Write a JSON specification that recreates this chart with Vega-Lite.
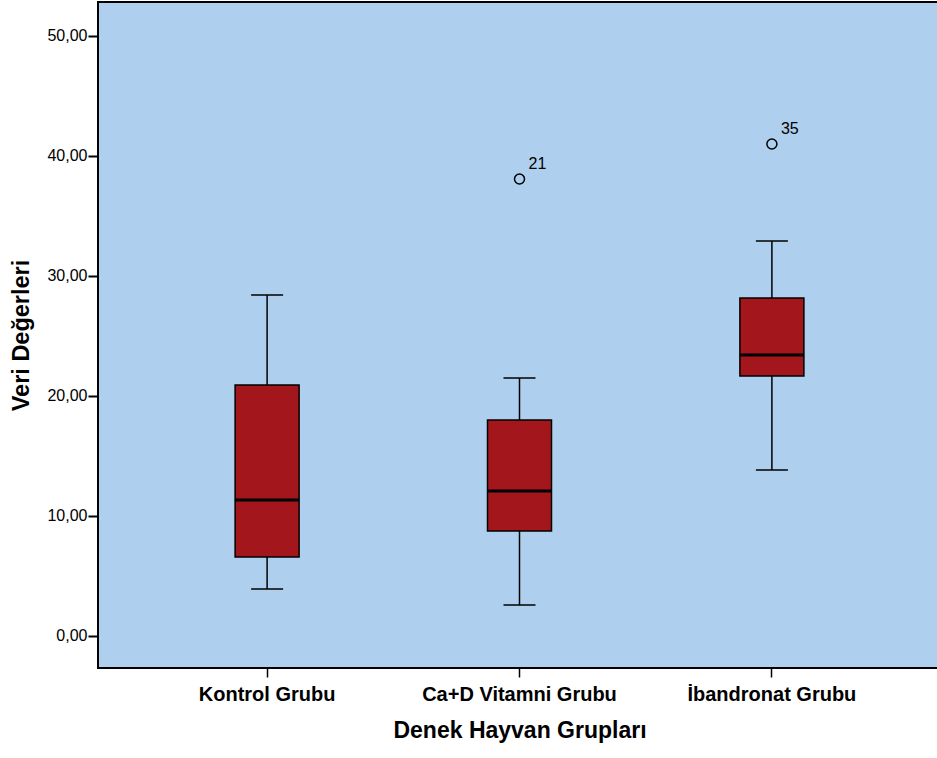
{
  "$schema": "https://vega.github.io/schema/vega-lite/v6.json",
  "width": 843,
  "height": 666,
  "autosize": {"type": "none"},
  "padding": {"left": 98, "top": 2, "right": 0, "bottom": 90},
  "background": "white",
  "config": {
    "font": "Liberation Sans",
    "axis": {"labelFont": "Liberation Sans", "titleFont": "Liberation Sans"},
    "text": {"font": "Liberation Sans"},
    "view": {"fill": "#AED0EE", "stroke": "#000000", "strokeWidth": 2}
  },
  "datasets": {
    "boxes": [
      {"grup": "Kontrol Grubu", "min": 3.92, "q1": 6.58, "median": 11.33, "q3": 20.92, "max": 28.42},
      {"grup": "Ca+D Vitamni Grubu", "min": 2.58, "q1": 8.75, "median": 12.08, "q3": 18.0, "max": 21.5},
      {"grup": "İbandronat Grubu", "min": 13.83, "q1": 21.67, "median": 23.42, "q3": 28.17, "max": 32.92}
    ],
    "outliers": [
      {"grup": "Ca+D Vitamni Grubu", "deger": 38.08, "etiket": "21"},
      {"grup": "İbandronat Grubu", "deger": 41.0, "etiket": "35"}
    ]
  },
  "encoding": {
    "x": {
      "field": "grup",
      "type": "nominal",
      "sort": ["Kontrol Grubu", "Ca+D Vitamni Grubu", "İbandronat Grubu"],
      "scale": {"type": "band", "paddingInner": 0, "paddingOuter": 0.17},
      "axis": {
        "title": "Denek Hayvan Grupları",
        "titleFontSize": 23,
        "titleFontWeight": "bold",
        "titleColor": "#000000",
        "titlePadding": 15,
        "labelFontSize": 20,
        "labelFontWeight": "bold",
        "labelColor": "#000000",
        "labelAngle": 0,
        "labelPadding": 7,
        "labelLimit": 400,
        "domain": false,
        "ticks": true,
        "tickColor": "#000000",
        "tickSize": 9,
        "tickWidth": 1.5,
        "grid": false
      }
    }
  },
  "layer": [
    {
      "data": {"name": "boxes"},
      "mark": {"type": "rule", "color": "#000000", "strokeWidth": 1.5},
      "encoding": {
        "y": {
          "field": "min",
          "type": "quantitative",
          "scale": {"domain": [-2.67, 52.83], "nice": false, "zero": false},
          "axis": {
            "title": "Veri Değerleri",
            "titleFontSize": 23.5,
            "titleFontWeight": "bold",
            "titleColor": "#000000",
            "titlePadding": 13,
            "values": [0, 10, 20, 30, 40, 50],
            "labelExpr": "replace(format(datum.value, '.2f'), '.', ',')",
            "labelFontSize": 16,
            "labelColor": "#000000",
            "labelPadding": 1,
            "domain": false,
            "tickColor": "#000000",
            "tickSize": 10,
            "tickWidth": 2,
            "grid": false
          }
        },
        "y2": {"field": "max"}
      }
    },
    {
      "data": {"name": "boxes"},
      "mark": {"type": "bar", "size": 64, "fill": "#A3171C", "stroke": "#000000", "strokeWidth": 1.5},
      "encoding": {
        "y": {"field": "q1", "type": "quantitative"},
        "y2": {"field": "q3"}
      }
    },
    {
      "data": {"name": "boxes"},
      "mark": {"type": "tick", "size": 64, "thickness": 3, "color": "#000000", "opacity": 1},
      "encoding": {"y": {"field": "median", "type": "quantitative"}}
    },
    {
      "data": {"name": "boxes"},
      "mark": {"type": "tick", "size": 32, "thickness": 1.5, "color": "#000000", "opacity": 1},
      "encoding": {"y": {"field": "min", "type": "quantitative"}}
    },
    {
      "data": {"name": "boxes"},
      "mark": {"type": "tick", "size": 32, "thickness": 1.5, "color": "#000000", "opacity": 1},
      "encoding": {"y": {"field": "max", "type": "quantitative"}}
    },
    {
      "data": {"name": "outliers"},
      "mark": {"type": "point", "shape": "circle", "size": 100, "filled": false, "stroke": "#000000", "strokeWidth": 1.5, "opacity": 1},
      "encoding": {"y": {"field": "deger", "type": "quantitative"}}
    },
    {
      "data": {"name": "outliers"},
      "mark": {"type": "text", "align": "left", "baseline": "alphabetic", "dx": 9, "dy": -10, "fontSize": 16, "color": "#000000"},
      "encoding": {
        "y": {"field": "deger", "type": "quantitative"},
        "text": {"field": "etiket"}
      }
    }
  ]
}
